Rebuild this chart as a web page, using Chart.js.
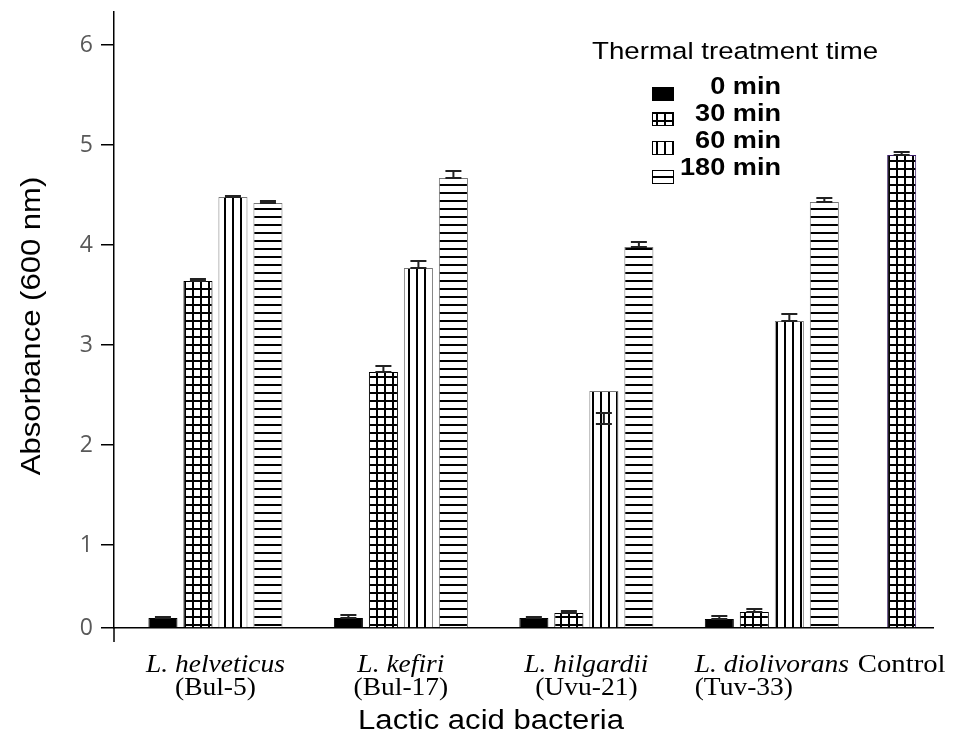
<!DOCTYPE html>
<html>
<head>
<meta charset="utf-8">
<script src="https://cdn.jsdelivr.net/npm/chart.js@4.4.1/dist/chart.umd.min.js"></script>
<style>
  html, body { margin: 0; padding: 0; background: #fff; }
</style>
</head>
<body>
<canvas id="chart" width="956" height="742"></canvas>
<script>
// --- data ---
const bacteria = ['L. helveticus', 'L. kefiri', 'L. hilgardii', 'L. diolivorans'];
const strains = ['(Bul-5)', '(Bul-17)', '(Uvu-21)', '(Tuv-33)'];
const controlLabel = 'Control';
const seriesLabels = ['0 min', '30 min', '60 min', '180 min'];

const abs0 = [0.27, 0.27, 0.27, 0.26];
const abs30 = [3.64, 2.73, 0.32, 0.33];
const abs60 = [4.48, 3.77, 2.54, 3.24];
const abs180 = [4.42, 4.67, 3.98, 4.43];
const absControl = [4.90];

// error bars as [low, high]
const err0 = [[0.27, 0.28], [0.27, 0.30], [0.27, 0.28], [0.26, 0.29]];
const err30 = [[3.64, 3.66], [2.73, 2.79], [0.32, 0.34], [0.33, 0.36]];
const err60 = [[4.48, 4.49], [3.77, 3.84], [2.21, 2.32], [3.24, 3.31]];
const err180 = [[4.42, 4.44], [4.67, 4.74], [3.98, 4.03], [4.43, 4.47]];
const errControl = [[4.90, 4.93]];

const yTickLabels = ['0', '1', '2', '3', '4', '5', '6'];

// --- layout bits (not data) ---
const yAxisBase = 0.17;   // the drawn x axis sits a little above true zero
const xMin = 0.453, xMax = 4.869, controlPos = 4.7;
const groupSpan = 0.755;  // width of one group of 4 bars, in x units
const labelAlign = ['center', 'center', 'center', 'left'];
const SANS = '"Liberation Sans", Arial, sans-serif';
const SERIF = '"Liberation Serif", "Times New Roman", serif';

const canvas = document.getElementById('chart');
const ctx = canvas.getContext('2d');

function makePattern(kind) {
    const c = document.createElement('canvas');
    c.width = 8; c.height = 8;
    const g = c.getContext('2d');
    g.fillStyle = '#fff';
    g.fillRect(0, 0, 8, 8);
    g.fillStyle = '#000';
    if (kind === 'grid' || kind === 'vert') g.fillRect(0, 0, 2, 8);
    if (kind === 'grid' || kind === 'horiz') g.fillRect(0, 0, 8, 2);
    return ctx.createPattern(c, 'repeat');
}
const patGrid = makePattern('grid');
const patVert = makePattern('vert');
const patHoriz = makePattern('horiz');

// text with a little stretch along the baseline, like the original figure
function stretchText(c, text, x, y, font, align, sx, rot) {
    c.save();
    c.font = font;
    c.fillStyle = '#000';
    c.textBaseline = 'alphabetic';
    const w = c.measureText(text).width * sx;
    let off = 0;
    if (align === 'center') off = -w / 2;
    if (align === 'right') off = -w;
    c.translate(x, y);
    if (rot) c.rotate(rot);
    c.translate(off, 0);
    c.scale(sx, 1);
    c.textAlign = 'left';
    c.fillText(text, 0, 0);
    c.restore();
    return { left: x + off, width: w };
}

const toPoints = arr => arr.map((v, i) => ({ x: i + 1, y: v }));
// the control bar sits closer than a full group step, so the bar ruler uses that gap
const groupOpts = {
    categoryPercentage: groupSpan / (controlPos - bacteria.length),
    barPercentage: 0.83, borderWidth: 1, base: yAxisBase
};

const errorSets = [err0, err30, err60, err180, errControl];

const errorBars = {
    id: 'errorBars',
    afterDatasetsDraw(chart) {
        const c = chart.ctx;
        const y = chart.scales.y;
        c.save();
        c.strokeStyle = '#222';
        c.lineWidth = 2;
        errorSets.forEach((set, d) => {
            const meta = chart.getDatasetMeta(d);
            set.forEach((r, i) => {
                const bar = meta.data[i];
                if (!bar) return;
                const x = bar.x;
                const lo = y.getPixelForValue(r[0]);
                const hi = y.getPixelForValue(r[1]);
                c.beginPath();
                c.moveTo(x, lo); c.lineTo(x, hi);
                c.moveTo(x - 8, hi); c.lineTo(x + 8, hi);
                c.moveTo(x - 8, lo); c.lineTo(x + 8, lo);
                c.stroke();
            });
        });
        c.restore();
    }
};

const customText = {
    id: 'customText',
    afterDraw(chart) {
        const c = chart.ctx;
        const area = chart.chartArea;

        // y axis runs a bit below the x axis
        c.save();
        c.strokeStyle = '#000';
        c.lineWidth = 1.5;
        c.beginPath();
        c.moveTo(area.left, area.bottom);
        c.lineTo(area.left, area.bottom + 14);
        c.stroke();
        c.restore();

        // axis titles
        stretchText(c, 'Absorbance (600 nm)', 40, (area.top + area.bottom) / 2 + 6, '27px ' + SANS, 'center', 1.15, -Math.PI / 2);
        stretchText(c, 'Lactic acid bacteria', 491, 729, '27px ' + SANS, 'center', 1.15);

        // category labels: italic species + strain code
        const xs = chart.scales.x;
        bacteria.forEach((name, i) => {
            const cx = xs.getPixelForValue(i + 1);
            const l1 = stretchText(c, name, cx, 672, 'italic 25px ' + SERIF, 'center', 1.1);
            if (labelAlign[i] === 'left') {
                stretchText(c, strains[i], l1.left, 695, '25px ' + SERIF, 'left', 1.1);
            } else {
                stretchText(c, strains[i], cx, 695, '25px ' + SERIF, 'center', 1.1);
            }
        });
        stretchText(c, controlLabel, xs.getPixelForValue(controlPos), 672, '25px ' + SERIF, 'center', 1.15);

        // legend
        stretchText(c, 'Thermal treatment time', 592, 59, '24.5px ' + SANS, 'left', 1.13);
        const rowBase = [94, 121, 148, 175];
        const boxTop = [87, 112, 141, 170];
        seriesLabels.forEach((lab, i) => {
            const ds = chart.data.datasets[i];
            c.save();
            c.fillStyle = ds.backgroundColor;
            c.fillRect(652, boxTop[i], 22, 14);
            c.strokeStyle = '#000';
            c.lineWidth = 1;
            c.strokeRect(652.5, boxTop[i] + 0.5, 21, 13);
            c.restore();
            stretchText(c, lab, 781, rowBase[i], 'bold 24px ' + SANS, 'right', 1.13);
        });
    }
};

new Chart(ctx, {
    type: 'bar',
    data: {
        datasets: [
            { label: seriesLabels[0], data: toPoints(abs0), backgroundColor: '#000', borderColor: '#000', ...groupOpts },
            { label: seriesLabels[1], data: toPoints(abs30), backgroundColor: patGrid, borderColor: '#000', ...groupOpts },
            { label: seriesLabels[2], data: toPoints(abs60), backgroundColor: patVert, borderColor: '#777', ...groupOpts },
            { label: seriesLabels[3], data: toPoints(abs180), backgroundColor: patHoriz, borderColor: '#777', ...groupOpts },
            {
                label: controlLabel, data: [{ x: controlPos, y: absControl[0] }], grouped: false,
                backgroundColor: patGrid, borderColor: '#3d1f6b', borderWidth: 1,
                maxBarThickness: 29, base: yAxisBase
            }
        ]
    },
    options: {
        responsive: false,
        animation: false,
        devicePixelRatio: 1,
        layout: { padding: { top: 12, right: 23, left: 0, bottom: 0 } },
        plugins: { legend: { display: false }, tooltip: { enabled: false } },
        scales: {
            x: {
                type: 'linear', min: xMin, max: xMax, offset: false,
                grid: { display: false, offset: false },
                border: { color: '#000', width: 1.5 },
                ticks: { display: false },
                afterBuildTicks: s => { s.ticks = bacteria.map((b, i) => ({ value: i + 1 })); },
                afterFit: s => { s.height = 114; s.paddingLeft = 0; s.paddingRight = 0; }
            },
            y: {
                min: yAxisBase, max: 6.33,
                afterBuildTicks: s => { s.ticks = yTickLabels.map(t => ({ value: t === '0' ? yAxisBase : Number(t) })); },
                ticks: {
                    callback: (v, i) => yTickLabels[i],
                    color: '#595959', padding: 8,
                    font: { family: '"Open Sans", sans-serif', size: 23 }
                },
                grid: { drawOnChartArea: false, drawTicks: true, tickLength: 13, color: '#000', lineWidth: 1.5 },
                border: { color: '#000', width: 1.5 },
                afterFit: s => { s.width = 114; s.paddingTop = 0; s.paddingBottom = 0; }
            }
        }
    },
    plugins: [errorBars, customText]
});
</script>
</body>
</html>
